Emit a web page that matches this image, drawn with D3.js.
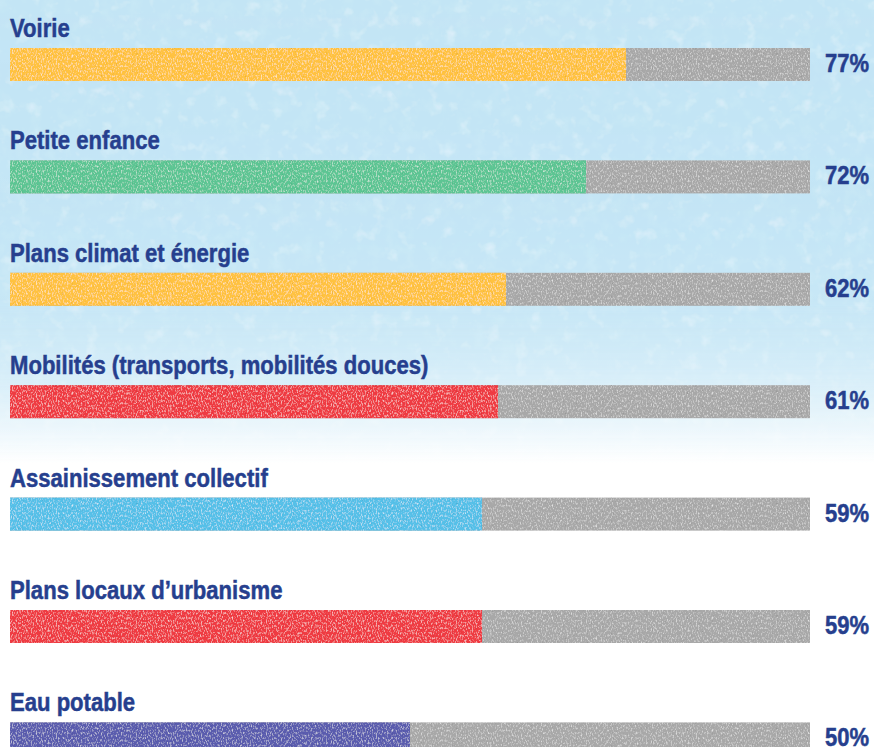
<!DOCTYPE html>
<html>
<head>
<meta charset="utf-8">
<script src="https://cdn.jsdelivr.net/npm/d3@7"></script>
<style>
  html, body { margin: 0; padding: 0; background: #fff; }
  svg { display: block; }
  .lbl { font-family: "Liberation Sans", Arial, "Helvetica", sans-serif; font-weight: bold; fill: #263f8e; stroke: #263f8e; stroke-width: 0.5px; }
</style>
</head>
<body>
<svg id="chart" width="874" height="747"></svg>
<script>
const categories = [
  "Voirie",
  "Petite enfance",
  "Plans climat et énergie",
  "Mobilités (transports, mobilités douces)",
  "Assainissement collectif",
  "Plans locaux d’urbanisme",
  "Eau potable"
];
const values = [77, 72, 62, 61, 59, 59, 50];
const valueLabels = ["77%", "72%", "62%", "61%", "59%", "59%", "50%"];
const barColors = ["#ffc23f", "#5cc593", "#ffc23f", "#ef3a42", "#55c0e8", "#ef3a42", "#5a5cae"];
const trackColor = "#a8a8a8";

const W = 874, H = 747;
const svg = d3.select("#chart");
const defs = svg.append("defs");

// background gradient
const bg = defs.append("linearGradient").attr("id", "bgGrad").attr("x1", 0).attr("y1", 0).attr("x2", 0).attr("y2", 1);
bg.append("stop").attr("offset", "0%").attr("stop-color", "#bfe4f4");
bg.append("stop").attr("offset", "30%").attr("stop-color", "#c8e8f6");
bg.append("stop").attr("offset", "48%").attr("stop-color", "#e1f3fb");
bg.append("stop").attr("offset", "62%").attr("stop-color", "#ffffff");
bg.append("stop").attr("offset", "100%").attr("stop-color", "#ffffff");

// mottled watercolor filter for background
const fbg = defs.append("filter").attr("id", "mottle").attr("x", 0).attr("y", 0).attr("width", 1).attr("height", 1);
fbg.append("feTurbulence").attr("type", "fractalNoise").attr("baseFrequency", "0.07").attr("numOctaves", 3).attr("seed", 4).attr("result", "n");
fbg.append("feColorMatrix").attr("in", "n").attr("type", "matrix")
  .attr("values", "0 0 0 0 0.6  0 0 0 0 0.82  0 0 0 0 0.94  1.8 0 0 0 -0.85").attr("result", "spots");
fbg.append("feComposite").attr("in", "spots").attr("in2", "SourceGraphic").attr("operator", "in").attr("result", "spotsIn");
fbg.append("feColorMatrix").attr("in", "n").attr("type", "matrix")
  .attr("values", "0 0 0 0 0.88  0 0 0 0 0.95  0 0 0 0 0.99  0 -1.4 0 0 0.6").attr("result", "light");
fbg.append("feComposite").attr("in", "light").attr("in2", "SourceGraphic").attr("operator", "in").attr("result", "lightIn");
const mbg = fbg.append("feMerge");
mbg.append("feMergeNode").attr("in", "SourceGraphic");
mbg.append("feMergeNode").attr("in", "spotsIn");
mbg.append("feMergeNode").attr("in", "lightIn");

// mask to fade mottle out downward
const mg = defs.append("linearGradient").attr("id", "fadeGrad").attr("x1", 0).attr("y1", 0).attr("x2", 0).attr("y2", 1);
mg.append("stop").attr("offset", "0%").attr("stop-color", "#fff").attr("stop-opacity", 1);
mg.append("stop").attr("offset", "40%").attr("stop-color", "#fff").attr("stop-opacity", 0.9);
mg.append("stop").attr("offset", "62%").attr("stop-color", "#fff").attr("stop-opacity", 0);
defs.append("mask").attr("id", "fadeMask").append("rect").attr("width", W).attr("height", H).attr("fill", "url(#fadeGrad)");

// subtle grain filter for bars
const fg = defs.append("filter").attr("id", "grain").attr("x", 0).attr("y", 0).attr("width", 1).attr("height", 1);
fg.append("feTurbulence").attr("type", "fractalNoise").attr("baseFrequency", "0.8 0.4").attr("numOctaves", 2).attr("seed", 7).attr("result", "n");
fg.append("feColorMatrix").attr("in", "n").attr("type", "matrix")
  .attr("values", "0 0 0 0 1  0 0 0 0 1  0 0 0 0 1  1.6 0 0 0 -0.8").attr("result", "w");
fg.append("feComposite").attr("in", "w").attr("in2", "SourceGraphic").attr("operator", "in").attr("result", "wIn");
fg.append("feColorMatrix").attr("in", "n").attr("type", "matrix")
  .attr("values", "0 0 0 0 0  0 0 0 0 0  0 0 0 0 0  0 -1.0 0 0 0.35").attr("result", "d");
fg.append("feComposite").attr("in", "d").attr("in2", "SourceGraphic").attr("operator", "in").attr("result", "dIn");
const mfg = fg.append("feMerge");
mfg.append("feMergeNode").attr("in", "SourceGraphic");
mfg.append("feMergeNode").attr("in", "dIn");
mfg.append("feMergeNode").attr("in", "wIn");

svg.append("rect").attr("width", W).attr("height", H).attr("fill", "url(#bgGrad)");
svg.append("g").attr("mask", "url(#fadeMask)")
  .append("rect").attr("width", W).attr("height", H).attr("fill", "#c4e5f5").attr("filter", "url(#mottle)").attr("opacity", 0.9);

// scales
const x = d3.scaleLinear().domain([0, 100]).range([10, 810]);
const y = d3.scaleBand().domain(categories).range([48, 48 + 112.4 * categories.length]).paddingInner(0).paddingOuter(0);
const barH = 33;

const rows = svg.append("g").selectAll("g.row")
  .data(categories.map((c, i) => ({ c, v: values[i], lab: valueLabels[i], col: barColors[i] })))
  .join("g").attr("class", "row")
  .attr("transform", d => `translate(0,${y(d.c)})`);

rows.append("rect").attr("x", x(0)).attr("y", 0).attr("width", x(100) - x(0)).attr("height", barH)
  .attr("fill", trackColor).attr("filter", "url(#grain)");
rows.append("rect").attr("x", x(0)).attr("y", 0).attr("width", d => x(d.v) - x(0)).attr("height", barH)
  .attr("fill", d => d.col).attr("filter", "url(#grain)");

rows.append("text").attr("class", "lbl")
  .attr("transform", "translate(10,-11) scale(0.85,1)")
  .attr("font-size", 26).text(d => d.c);

rows.append("text").attr("class", "lbl")
  .attr("transform", `translate(869,${barH / 2 + 7.5}) scale(0.88,1)`)
  .attr("text-anchor", "end").attr("font-size", 25).text(d => d.lab);
</script>
</body>
</html>
